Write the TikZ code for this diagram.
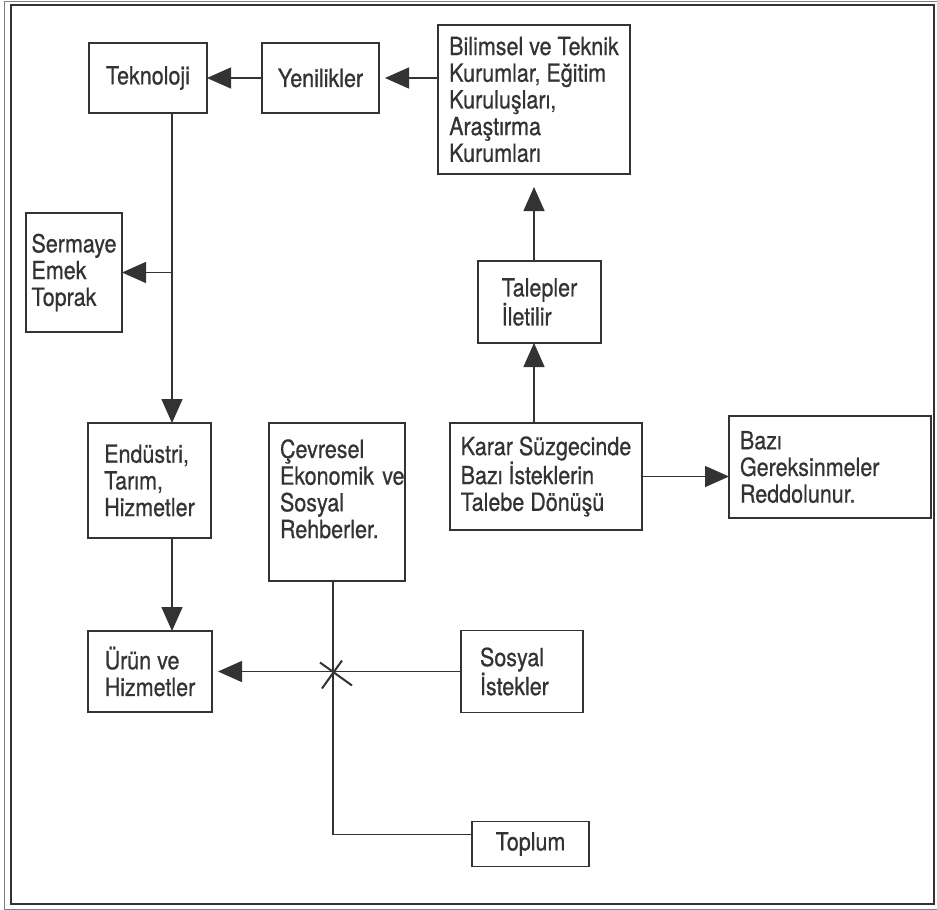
\documentclass[tikz,border=0pt]{standalone}
\usepackage{fontspec}
\setmainfont{TeX Gyre Heros}[FakeStretch=0.86, FakeBold=0.6]
\usetikzlibrary{arrows.meta,positioning,calc}
\definecolor{ink}{HTML}{333333}

\begin{document}
\begin{tikzpicture}[
  x=1pt, y=1pt,
  box/.style={rectangle, draw=ink, line width=1.8pt, align=left, inner sep=0pt, outer sep=0pt, text=ink, font=\fontsize{25}{26.7}\selectfont},
  link/.style={draw=ink, line width=1.5pt},
  every edge/.style={draw=ink, line width=1.5pt, -{Triangle[length=24pt,width=21pt]}}
]
\useasboundingbox (0,0) rectangle (937,-910);

% Frame
\draw[gray, line width=0.8pt] (4,-1) rectangle (937,-909);
\draw[ink, line width=1.8pt] (11,-5) rectangle (934,-904);

% Top row
\node[box, minimum width=118pt, minimum height=70pt] (TEK) at (148,-78) {Teknoloji};
\node[box, minimum width=117pt, minimum height=70pt, right=55pt of TEK] (YEN) {Yenilikler};
\node[box, minimum width=192pt, minimum height=149pt, right=59pt of YEN, yshift=-21.5pt] (BIL) {Bilimsel ve Teknik\\Kurumlar, Eğitim\\Kuruluşları,\\Araştırma\\Kurumları};

% Right column
\node[box, minimum width=123pt, minimum height=82pt, below=87pt of BIL, xshift=5.5pt] (TAL) {Talepler\\İletilir};
\node[box, minimum width=192pt, minimum height=107pt, below=80pt of TAL, xshift=6.5pt] (KAR) {Karar Süzgecinde\\Bazı İsteklerin\\Talebe Dönüşü};
\node[box, minimum width=202pt, minimum height=102pt, text width=180pt, right=87pt of KAR, yshift=9.5pt] (BAZ) {Bazı\\Gereksinmeler\\Reddolunur.};

% Left column
\node[box, minimum width=96pt, minimum height=119pt, below=100pt of TEK, xshift=-74pt] (SER) {Sermaye\\Emek\\Toprak};
\node[box, minimum width=123pt, minimum height=115pt, below=310pt of TEK, xshift=1.5pt] (END) {Endüstri,\\Tarım,\\Hizmetler};
\node[box, minimum width=124pt, minimum height=81pt, below=93pt of END, xshift=0.5pt] (URUN) {Ürün ve\\Hizmetler};

% Middle
\node[box, minimum width=136pt, minimum height=158pt, text width=114pt, right=58pt of END, yshift=-21.5pt] (CEV) {Çevresel\\\mbox{Ekonomik ve}\\Sosyal\\Rehberler.\\\mbox{}};
\node[box, minimum width=122pt, minimum height=82pt, text width=84pt, right=249pt of URUN] (SOS) {Sosyal\\İstekler};
\node[box, minimum width=117pt, minimum height=45pt, below=109pt of SOS, xshift=8.5pt] (TOP) {Toplum};

% Helper points
\coordinate (BR) at ($(SER.east)+(50,0)$);
\coordinate (CROSS) at ($(CEV.south |- URUN.east)+(-4,0)$);
\coordinate (BEND) at ($(CROSS |- TOP.west)+(0,9.5)$);

% Edges: top row and left column
\path (YEN.west) edge (TEK.east);
\path (BIL.west |- YEN.east) edge[shorten >=6pt] (YEN.east);
\draw[link] (TEK.south -| BR) -- (BR);
\path (BR) edge (END.north -| BR);
\path (BR) edge (SER.east);
\path (END.south -| BR) edge (URUN.north -| BR);

% Edges: right column
\path (KAR.north -| BIL.south) edge (TAL.south -| BIL.south);
\path (TAL.north -| BIL.south) edge[shorten >=13pt] (BIL.south);
\path (KAR.east) edge (KAR.east -| BAZ.west);

% Society line with the cross
\path (SOS.west) edge[shorten >=6pt] (SOS.west -| URUN.east);
\draw[link] (CROSS |- CEV.south) -- (BEND) -- (BEND -| TOP.west);
\draw[link, line width=2pt] ($(CROSS)+(-13,9)$) -- ($(CROSS)+(19,-14)$);
\draw[link, line width=2pt] ($(CROSS)+(-11,-17)$) -- ($(CROSS)+(9,11)$);

\end{tikzpicture}
\end{document}
